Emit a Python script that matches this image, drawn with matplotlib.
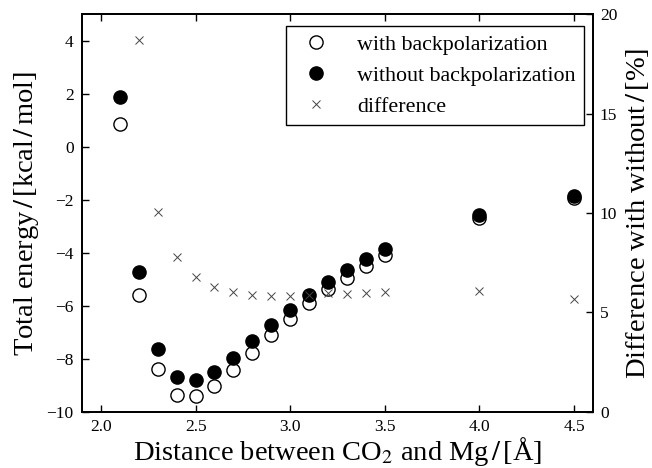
import matplotlib
matplotlib.use("Agg")
import matplotlib.pyplot as plt

plt.rcParams['font.family'] = ['Liberation Serif', 'DejaVu Serif']
plt.rcParams['mathtext.fontset'] = 'stix'

distance = [2.1, 2.2, 2.3, 2.4, 2.5, 2.6, 2.7, 2.8, 2.9, 3.0, 3.1, 3.2, 3.3, 3.4, 3.5, 4.0, 4.5]
with_bp = [0.85, -5.59, -8.39, -9.36, -9.40, -9.01, -8.42, -7.79, -7.11, -6.48, -5.90, -5.38, -4.94, -4.50, -4.08, -2.70, -1.95]
without_bp = [1.88, -4.71, -7.63, -8.69, -8.81, -8.48, -7.95, -7.34, -6.72, -6.14, -5.59, -5.09, -4.64, -4.24, -3.87, -2.57, -1.85]
difference = [None, 18.69, 10.07, 7.77, 6.80, 6.30, 6.05, 5.90, 5.85, 5.85, 5.90, 5.96, 5.93, 6.00, 6.01, 6.08, 5.66]

xticks = [2.0, 2.5, 3.0, 3.5, 4.0, 4.5]
yticks_left = [-10, -8, -6, -4, -2, 0, 2, 4]
yticks_right = [0, 5, 10, 15, 20]

fig = plt.figure(figsize=(6.52, 4.68), dpi=100)
ax = fig.add_axes([0.1258, 0.1197, 0.7837, 0.8503])
ax2 = ax.twinx()

h1, = ax.plot(distance, with_bp, 'o', ms=9.5, mfc='white', mec='black', mew=1.0, ls='none',
              label='with backpolarization')
h2, = ax.plot(distance, without_bp, 'o', ms=9.5, mfc='black', mec='black', ls='none',
              label='without backpolarization')
dx = [d for d, v in zip(distance, difference) if v is not None]
dv = [v for v in difference if v is not None]
h3, = ax2.plot(dx, dv, 'x', ms=5.5, color='#444444', mew=0.7, ls='none', label='difference')

ax.set_xlim(1.9, 4.6)
ax.set_ylim(-10, 5)
ax2.set_ylim(0, 20)
ax.set_xticks(xticks)
ax.set_xticklabels(['%.1f' % t for t in xticks])
ax.set_yticks(yticks_left)
ax.set_yticklabels([('\u2212%d' % -t) if t < 0 else '%d' % t for t in yticks_left])
ax2.set_yticks(yticks_right)

ax.tick_params(axis='x', direction='in', length=5, width=1, labelsize=12.5, top=True, pad=5)
ax.tick_params(axis='y', direction='in', length=5, width=1, labelsize=12.5, pad=6)
ax2.tick_params(axis='y', direction='in', length=5, width=1, labelsize=12.5, pad=5)
for a in (ax, ax2):
    for s in a.spines.values():
        s.set_linewidth(1.3)

sl = r'$\,/\,$'
ax.set_xlabel('Distance between CO$_2$ and Mg' + sl + '[\u00c5]', fontsize=20.5, labelpad=0)
ax.set_ylabel('Total energy' + sl + '[kcal' + sl + 'mol]', fontsize=20.5, labelpad=4)
ax2.set_ylabel('Difference with without' + sl + '[%]', fontsize=20.5, labelpad=5)

leg = ax.legend(handles=[h1, h2, h3], loc='upper right', bbox_to_anchor=(0.9824, 0.9698),
                fontsize=15.8, frameon=True, fancybox=False, framealpha=1, edgecolor='black',
                borderaxespad=0, handletextpad=0.87, handlelength=2.0, borderpad=0.37,
                labelspacing=0.49, numpoints=1)
leg.get_frame().set_linewidth(1.0)

fig.savefig('out.png', dpi=100)
